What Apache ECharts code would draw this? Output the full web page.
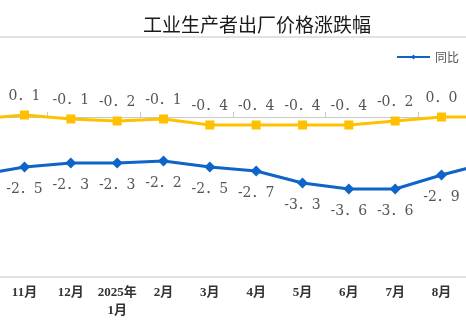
<!DOCTYPE html>
<html>
<head>
<meta charset="utf-8">
<script src="https://cdn.jsdelivr.net/npm/echarts@6/dist/echarts.min.js"></script>
<style>html,body{margin:0;padding:0;background:#fff;overflow:hidden;width:466px;height:324px}#c{width:600px;height:324px;margin-left:-45px}</style>
</head>
<body>
<div id="c"></div>
<script>
const categories = ['10月','11月','12月','2025年\n1月','2月','3月','4月','5月','6月','7月','8月','9月'];
const yoy = [-2.9, -2.5, -2.3, -2.3, -2.2, -2.5, -2.7, -3.3, -3.6, -3.6, -2.9, -2.3];
const mom = [-0.1, 0.1, -0.1, -0.2, -0.1, -0.4, -0.4, -0.4, -0.4, -0.2, 0.0, 0.0];
const seriesNames = ['同比', '环比'];

const fmt = p => p.value.toFixed(1).replace('.', '．');
const labelFont = '"DejaVu Serif", "Liberation Serif", "Noto Sans CJK SC", serif';

const chart = echarts.init(document.getElementById('c'), null, {renderer: 'canvas'});
chart.setOption({
  animation: false,
  backgroundColor: '#fff',
  title: {
    text: '工业生产者出厂价格涨跌幅',
    left: 183, top: 10,
    textStyle: {fontFamily: '"Noto Sans CJK SC", sans-serif', fontSize: 19, fontWeight: 'normal', color: '#1a1a1a'}
  },
  legend: {
    data: seriesNames,
    left: 436, top: 46,
    itemWidth: 33, itemHeight: 6, itemGap: 10,
    textStyle: {fontFamily: '"Noto Sans CJK SC", sans-serif', fontSize: 12, color: '#555'}
  },
  grid: {
    left: 0, right: 44, top: 37, bottom: 47,
    show: true, borderWidth: 2, borderColor: '#e2e2e2', backgroundColor: 'transparent'
  },
  xAxis: [{
    type: 'category', data: categories, position: 'bottom',
    axisLine: {show: false, onZero: false},
    axisTick: {show: false},
    axisLabel: {
      interval: 0, margin: 7, color: '#333', fontSize: 13, fontWeight: 'bold', lineHeight: 18,
      fontFamily: '"Liberation Serif", "Noto Sans CJK SC", serif'
    }
  }, {
    type: 'category', data: categories, position: 'top',
    axisLine: {show: true, onZero: true, lineStyle: {color: '#c8c8c8', width: 1}},
    axisTick: {show: true, length: 5, lineStyle: {color: '#c8c8c8'}},
    axisLabel: {show: false}
  }],
  yAxis: {
    type: 'value', min: -8, max: 4, interval: 4,
    axisLine: {show: false}, axisTick: {show: false}, axisLabel: {show: false},
    splitLine: {show: false}
  },
  series: [{
    name: seriesNames[0], type: 'line', data: yoy, xAxisIndex: 0,
    symbol: 'diamond', symbolSize: 11,
    lineStyle: {color: '#0e64c8', width: 3},
    itemStyle: {color: '#0e64c8'},
    label: {show: true, position: 'bottom', distance: 10, formatter: fmt,
      fontFamily: labelFont, fontSize: 14, color: '#555'}
  }, {
    name: seriesNames[1], type: 'line', data: mom, xAxisIndex: 0,
    symbol: 'rect', symbolSize: 9,
    lineStyle: {color: '#ffc000', width: 3},
    itemStyle: {color: '#ffc000'},
    label: {show: true, position: 'top', distance: 7, formatter: fmt,
      fontFamily: labelFont, fontSize: 14, color: '#555'}
  }]
});
</script>
</body>
</html>
